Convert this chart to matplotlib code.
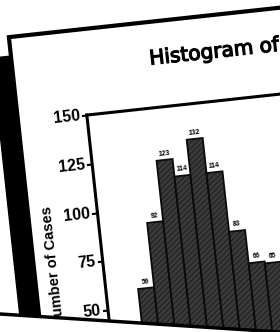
import numpy as np
import matplotlib
matplotlib.use('Agg')
import matplotlib.pyplot as plt
import matplotlib.patheffects as pe
from matplotlib.transforms import Affine2D
from matplotlib.patches import Rectangle, Polygon
import mpl_toolkits.axisartist.floating_axes as floating_axes
from mpl_toolkits.axisartist.grid_finder import FixedLocator, DictFormatter

# data
title = 'Histogram of'
ylabel = 'Number of Cases'
first_bin = 2
counts = [59, 92, 123, 114, 132, 114, 83, 66, 65]
yticks = [0, 25, 50, 75, 100, 125, 150]

narrow = 'Liberation Sans'

W, H = 280, 332
ANG = 6.2
# bin units -> pixels, rotated like the photographed page
tr = Affine2D().scale(16.1, 1.961).rotate_deg(ANG).translate(118.6, -75.5)

gh = floating_axes.GridHelperCurveLinear(
    tr, extremes=(0, 16, 0, 150),
    grid_locator1=FixedLocator([]),
    grid_locator2=FixedLocator(yticks),
    tick_formatter2=DictFormatter({v: str(v) for v in yticks}))

fig = plt.figure(figsize=(W / 100, H / 100), dpi=100)
ax = fig.add_axes([0, 0, 1, 1], axes_class=floating_axes.FloatingAxes, grid_helper=gh)
ax.set_xlim(0, W)
ax.set_ylim(0, H)
aux = ax.get_aux_axes(tr)

for k in ['bottom', 'right', 'top']:
    ax.axis[k].toggle(ticks=False, ticklabels=False)
for k in ['left', 'top', 'bottom', 'right']:
    ax.axis[k].line.set_linewidth(2.2)

left = ax.axis['left']
left.major_ticks.set_tick_out(True)
left.major_ticks.set_ticksize(4)
left.major_ticks.set_markeredgewidth(1.5)
left.major_ticklabels.set_fontsize(11.5)
left.major_ticklabels.set_fontfamily(narrow)
left.major_ticklabels.set_fontweight('bold')
left.major_ticklabels.set_pad(1)
left.label.set_text(ylabel)
left.label.set_fontsize(10.5)
left.label.set_fontfamily(narrow)
left.label.set_fontweight('bold')
left.label.set_pad(6)

# page, with its dark shadow on the left
pu0, pv1 = -4.29, 193.8
page = Rectangle((pu0, -80), 40, pv1 + 80, facecolor='white', edgecolor='black',
                 linewidth=3, zorder=0.5, clip_on=False)
aux.add_patch(page)
shadow = Rectangle((pu0, -80), 40, pv1 + 80, facecolor='black', edgecolor='black',
                   zorder=0.3, clip_on=False,
                   transform=aux.transData + Affine2D().translate(-17, -21))
aux.add_patch(shadow)

x = np.arange(len(counts)) + first_bin
matplotlib.rcParams['hatch.linewidth'] = 0.4
aux.bar(x, counts, width=1, align='edge', facecolor='#3a3a3a', edgecolor='#0a0a0a',
        hatch='//////', linewidth=1.3, zorder=1)
for xi, c in zip(x, counts):
    aux.text(xi + 0.5, c + 1.5, str(c), rotation=ANG, rotation_mode='anchor',
             ha='center', va='bottom', fontsize=5, fontweight='bold',
             family=narrow, clip_on=False)

aux.text(4.24, 172, title, rotation=ANG, rotation_mode='anchor', ha='left',
         va='baseline', fontsize=14.5, clip_on=False,
         path_effects=[pe.withStroke(linewidth=0.9, foreground='black')])

# the lower edge of the scan is covered by another sheet
cover = Polygon([(0, 18), (W, 0), (W, -20), (0, -20)], closed=True,
                facecolor='white', edgecolor='none', zorder=10, clip_on=False)
ax.add_patch(cover)
ax.plot([0, W], [18, 0], color='black', linewidth=2.5, zorder=11, clip_on=False)

fig.savefig('out.png', dpi=100)
